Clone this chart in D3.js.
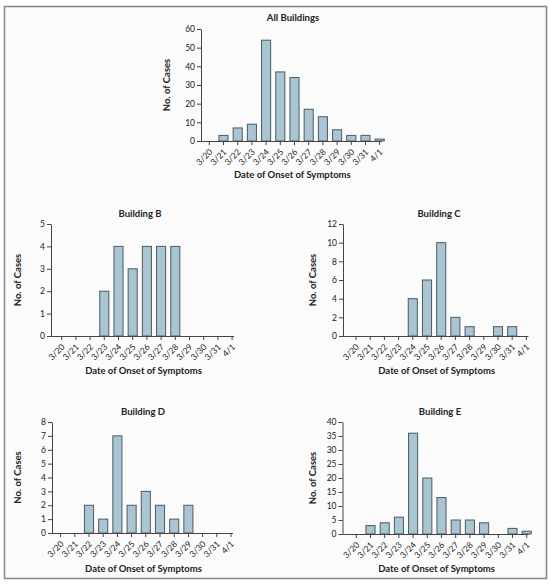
<!DOCTYPE html>
<html>
<head>
<meta charset="utf-8">
<script src="https://cdn.jsdelivr.net/npm/d3@7/dist/d3.min.js"></script>
<style>
  html, body { margin: 0; padding: 0; background: #ffffff; }
  svg { display: block; }
  text { font-family: Lato, "Open Sans", sans-serif; fill: #222; }
</style>
</head>
<body>
<svg id="chart" width="550" height="584"></svg>
<script>
// ---- Data ----
const dates = ["3/20","3/21","3/22","3/23","3/24","3/25","3/26","3/27","3/28","3/29","3/30","3/31","4/1"];
const allBuildings = [0, 3, 7, 9, 54, 37, 34, 17, 13, 6, 3, 3, 1];
const buildingB   = [0, 0, 0, 2, 4, 3, 4, 4, 4, 0, 0, 0, 0];
const buildingC   = [0, 0, 0, 0, 4, 6, 10, 2, 1, 0, 1, 1, 0];
const buildingD   = [0, 0, 2, 1, 7, 2, 3, 2, 1, 2, 0, 0, 0];
const buildingE   = [0, 3, 4, 6, 36, 20, 13, 5, 5, 4, 0, 2, 1];
const yTicksAll = [0, 10, 20, 30, 40, 50, 60];
const yTicksB = [0, 1, 2, 3, 4, 5];
const yTicksC = [0, 2, 4, 6, 8, 10, 12];
const yTicksD = [0, 1, 2, 3, 4, 5, 6, 7, 8];
const yTicksE = [0, 5, 10, 15, 20, 25, 30, 35, 40];

const svg = d3.select("#chart");

// frame
svg.append("rect").attr("x", 4.5).attr("y", 6.5).attr("width", 542).attr("height", 572)
  .attr("fill", "#fbfbfb").attr("stroke", "#8a8a8a").attr("stroke-width", 1.6);

const STEP = 14.2;

function panel(cfg) {
  const g = svg.append("g");
  const n = dates.length;
  const x = d3.scaleBand().domain(dates)
    .range([cfg.first - STEP / 2, cfg.first - STEP / 2 + n * STEP])
    .paddingInner(0.36).paddingOuter(0.18);
  const yMax = cfg.ticks[cfg.ticks.length - 1];
  const y = d3.scaleLinear().domain([0, yMax]).range([cfg.y0, cfg.yTop]);

  // bars
  g.selectAll("rect.bar").data(dates.map((d, i) => ({ d, v: cfg.values[i] })).filter(o => o.v > 0))
    .enter().append("rect")
    .attr("x", o => x(o.d)).attr("width", x.bandwidth())
    .attr("y", o => y(o.v)).attr("height", o => y(0) - y(o.v))
    .attr("fill", "#a9c4d3").attr("stroke", "#4f5a61").attr("stroke-width", 1);

  // y axis
  const yAxis = d3.axisLeft(y).tickValues(cfg.ticks).tickFormat(d3.format("d"))
    .tickSize(4).tickPadding(2).tickSizeOuter(0);
  const ya = g.append("g").attr("transform", `translate(${cfg.axisX},0)`).call(yAxis);
  ya.select(".domain").attr("stroke", "#444");
  ya.selectAll(".tick line").attr("stroke", "#444");
  ya.selectAll(".tick text").attr("font-size", 8.5).attr("font-family", "Lato, sans-serif").attr("fill", "#333");

  // x axis line
  const xEnd = x(dates[n - 1]) + x.bandwidth() / 2 + 2;
  g.append("line").attr("x1", cfg.axisX).attr("x2", xEnd)
    .attr("y1", cfg.y0 + 0.5).attr("y2", cfg.y0 + 0.5).attr("stroke", "#444").attr("stroke-width", 1);
  // x ticks
  const xc = d => x(d) + x.bandwidth() / 2;
  g.selectAll("line.xt").data(dates).enter().append("line")
    .attr("x1", xc).attr("x2", xc).attr("y1", cfg.y0).attr("y2", cfg.y0 + 4)
    .attr("stroke", "#444");
  g.selectAll("text.xl").data(dates).enter().append("text")
    .attr("transform", d => `translate(${xc(d) + 1.5},${cfg.y0 + 9.5}) rotate(-45)`)
    .attr("text-anchor", "end").attr("dy", "0.35em")
    .attr("font-size", 8.5).attr("fill", "#333").text(d => d);

  // title
  g.append("text").attr("x", cfg.titleX).attr("y", cfg.titleY).attr("text-anchor", "middle")
    .attr("font-size", 9.5).attr("font-weight", "bold").text(cfg.title);
  // y label
  g.append("text").attr("transform", `translate(${cfg.ylabX},${(cfg.y0 + cfg.yTop) / 2}) rotate(-90)`)
    .attr("text-anchor", "middle").attr("dy", "0.35em")
    .attr("font-size", 9.5).attr("font-weight", "bold").text("No. of Cases");
  // x label
  g.append("text").attr("x", (cfg.axisX + xEnd) / 2 + 1).attr("y", cfg.xlabY).attr("text-anchor", "middle")
    .attr("font-size", 9.5).attr("font-weight", "bold").text("Date of Onset of Symptoms");
}

panel({ title: "All Buildings", values: allBuildings, ticks: yTicksAll,
  axisX: 201, first: 209.3, y0: 141, yTop: 29, titleX: 293, titleY: 21, ylabX: 167, xlabY: 178 });
panel({ title: "Building B", values: buildingB, ticks: yTicksB,
  axisX: 51, first: 61.7, y0: 336, yTop: 224, titleX: 140, titleY: 217, ylabX: 18, xlabY: 374 });
panel({ title: "Building C", values: buildingC, ticks: yTicksC,
  axisX: 343, first: 356, y0: 336, yTop: 224, titleX: 439, titleY: 217, ylabX: 313, xlabY: 374 });
panel({ title: "Building D", values: buildingD, ticks: yTicksD,
  axisX: 52, first: 60.6, y0: 533, yTop: 422, titleX: 143, titleY: 415, ylabX: 18, xlabY: 572 });
panel({ title: "Building E", values: buildingE, ticks: yTicksE,
  axisX: 342.5, first: 356.3, y0: 534, yTop: 422, titleX: 440, titleY: 415, ylabX: 313, xlabY: 572 });
</script>
</body>
</html>
